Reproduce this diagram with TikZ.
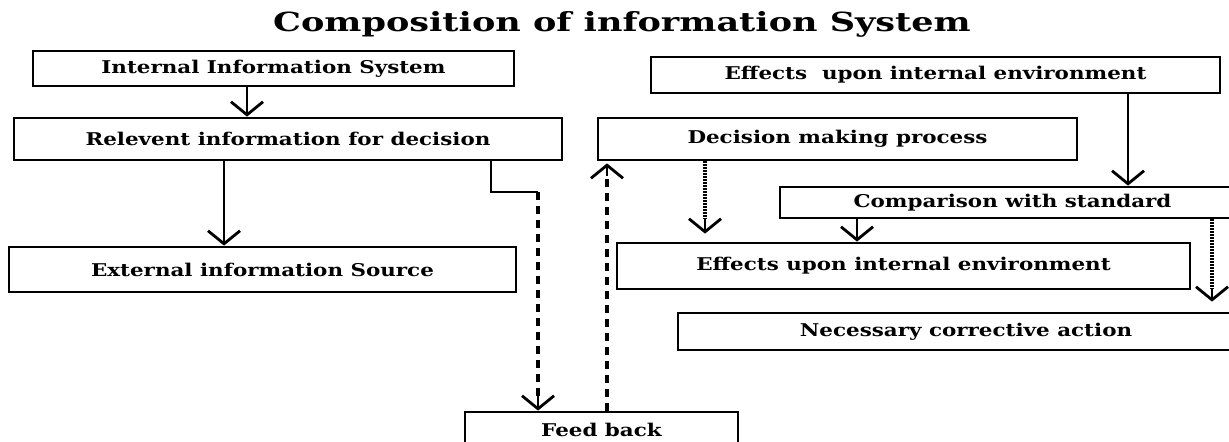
\documentclass[tikz,border=0pt]{standalone}
\usepackage{fontspec}
\setmainfont{DejaVu Serif}
\newfontfamily\boxfont[FakeStretch=1.22]{DejaVu Serif}
\newfontfamily\headfont[FakeStretch=1.33]{DejaVu Serif}
\usepackage{tikz}
\usetikzlibrary{calc}
\usetikzlibrary{arrows.meta}
\tikzset{
    box/.style={draw, line width=1.6pt, inner sep=0pt,
        font=\boxfont\bfseries\fontsize{10}{11}\selectfont},
    flow/.style={-{Straight Barb[length=2.6mm, width=6.4mm, line width=1.6pt]}, line width=1.5pt},
    fbline/.style={line width=2pt, dash pattern=on 0.16cm off 0.12cm},
    dotline/.style={line width=2pt, dash pattern=on 0.035cm off 0.025cm}
}

\begin{document}
\begin{tikzpicture}[x=0.02cm, y=-0.02cm]
    \useasboundingbox (0, 0) rectangle (1229, 441);

    \node (title) at (622, 24) {\headfont\bfseries\fontsize{15}{17}\selectfont Composition of information System};

    % left column
    \node [box, minimum width=9.62cm, minimum height=0.70cm] (intsys) at (273.5, 68.5) {Internal Information System};
    \node [box, minimum width=10.96cm, minimum height=0.84cm] (relinfo) at (288, 139) {Relevent information for decision};
    \node [box, minimum width=10.14cm, minimum height=0.90cm] (extsrc) at (262.5, 269.5) {External information Source};
    \node [box, minimum width=5.46cm, minimum height=0.72cm] (feedback) at (601.5, 430) {Feed back};

    % right column
    \node [box, minimum width=11.38cm, minimum height=0.72cm] (effint) at (935.5, 75) {Effects\ \ upon internal environment};
    \node [box, minimum width=9.58cm, minimum height=0.84cm] (decision) at (837.5, 139) {Decision making process};
    \node [box, minimum width=9.30cm, minimum height=0.62cm] (compare) at (1012.5, 202.5) {Comparison with standard};
    \node [box, minimum width=11.46cm, minimum height=0.92cm] (effmid) at (903.5, 266) {Effects upon internal environment};
    \node [box, minimum width=11.52cm, minimum height=0.74cm] (corrective) at (966, 331.5) {Necessary corrective action};

    \coordinate (colA) at (247, 0);
    \coordinate (colB) at (224, 0);
    \coordinate (colC) at (491, 0);
    \coordinate (bend) at (538, 192);
    \coordinate (colE) at (607, 0);
    \coordinate (colF) at (705, 0);
    \coordinate (colG) at (1128, 0);
    \coordinate (colH) at (857, 0);
    \coordinate (colI) at (1212, 0);

    \draw [flow] (colA |- intsys.south) -- (colA |- relinfo.north);
    \draw [flow] (colB |- relinfo.south) -- (colB |- extsrc.north);

    \draw [line width=1.5pt] (colC |- relinfo.south) |- (bend);
    \draw [fbline] (bend) -- ([yshift=0.3cm]bend |- feedback.north);
    \draw [flow] ([yshift=0.3cm]bend |- feedback.north) -- (bend |- feedback.north);

    \draw [fbline] (colE |- feedback.north) -- ([yshift=-0.3cm]colE |- decision.south);
    \draw [flow] ([yshift=-0.3cm]colE |- decision.south) -- ([yshift=-0.04cm]colE |- decision.south);

    \draw [dotline] (colF |- decision.south) -- ([yshift=0.45cm]colF |- effmid.north);
    \draw [flow] ([yshift=0.45cm]colF |- effmid.north) -- ([yshift=0.16cm]colF |- effmid.north);

    \draw [flow] (colG |- effint.south) -- (colG |- compare.north);
    \draw [flow] (colH |- compare.south) -- (colH |- effmid.north);

    \draw [dotline] (colI |- compare.south) -- ([yshift=0.45cm]colI |- corrective.north);
    \draw [flow] ([yshift=0.45cm]colI |- corrective.north) -- ([yshift=0.2cm]colI |- corrective.north);
\end{tikzpicture}
\end{document}
